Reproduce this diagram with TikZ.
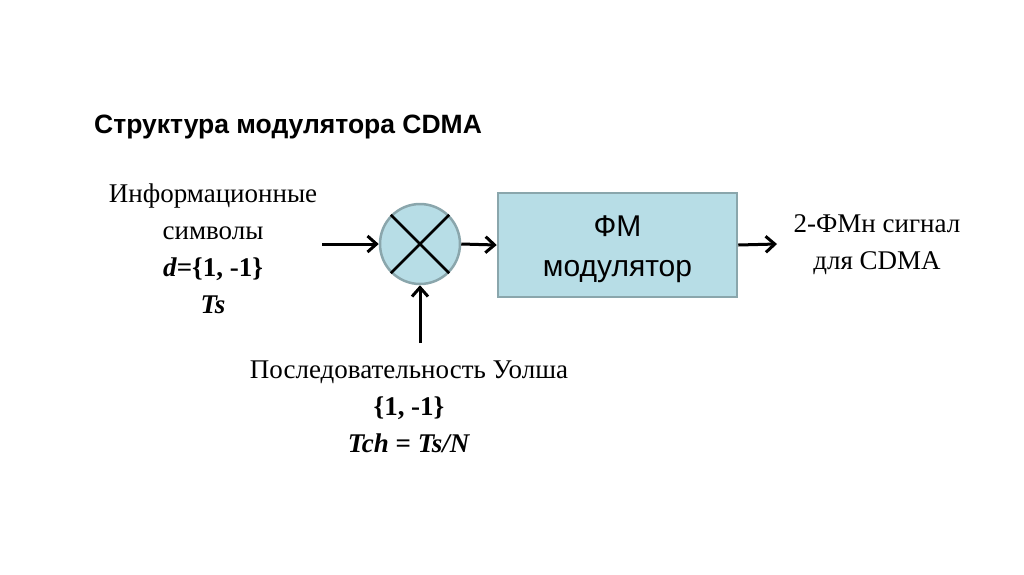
\documentclass[tikz,border=0pt]{standalone}
\usepackage{fontspec}
\setmainfont{Liberation Serif}
\setsansfont{Liberation Sans}
\usetikzlibrary{arrows.meta}
\definecolor{boxfill}{HTML}{B7DDE6}
\definecolor{boxline}{HTML}{8AA6AC}
\tikzset{
  lbl/.style={font=\fontsize{27}{37}\selectfont, align=center, inner sep=0pt},
  conn/.style={line width=3pt, -{Straight Barb[length=9pt,width=16pt,line width=3pt]}},
  blockbox/.style={draw=boxline, line width=2.5pt, fill=boxfill, minimum width=239pt, minimum height=104pt, inner sep=0pt},
  blocktext/.style={align=center, inner sep=0pt, font=\sffamily\fontsize{30}{40}\selectfont},
  mixer/.style={circle, draw=boxline, line width=2.5pt, fill=boxfill, minimum size=80pt, inner sep=0pt}
}
\begin{document}
\begin{tikzpicture}[x=1pt,y=-1pt]
\useasboundingbox (0,0) rectangle (1024,574);
\node[anchor=base west, inner sep=0pt, font=\sffamily\bfseries\fontsize{26.5}{30}\selectfont] (title) at (94,133) {Структура модулятора CDMA};

\node[lbl] (info) at (213,249) {Информационные\\символы\\\textbf{\textit{d}=\{1, -1\}}\\\textbf{\textit{Ts}}};

\node[mixer] (mix) at (420,244) {};
\draw[line width=2.5pt] (mix.north west) -- (mix.south east);
\draw[line width=2.5pt] (mix.north east) -- (mix.south west);

\node[blockbox] (mod) at (617.5,245) {};
\node[blocktext] (modtxt) at (617.5,249) {ФМ\\модулятор};

\node[lbl] (out) at (877,245) {2-ФМн сигнал\\для CDMA};

\node[lbl] (walsh) at (409,407) {Последовательность Уолша\\\textbf{\{1, -1\}}\\\textbf{\textit{Tch} = \textit{Ts/N}}};

\coordinate (inL) at (322,244);
\coordinate (inB) at (420,343);
\coordinate (outR) at (777,244);

\draw[conn] (inL) -- (mix.west);
\draw[conn] (inB) -- (mix.south);
\draw[conn] (mix.east) -- (mod.west);
\draw[conn] (mod.east) -- (outR);
\end{tikzpicture}
\end{document}
